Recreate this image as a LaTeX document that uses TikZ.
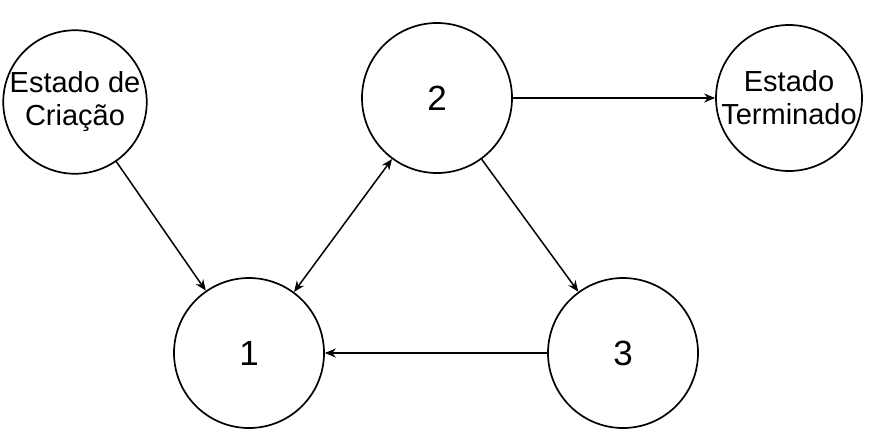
\documentclass[tikz,border=0pt]{standalone}
\usepackage{fontspec}
\setmainfont{Liberation Sans}
\usetikzlibrary{arrows.meta}
\begin{document}
\begin{tikzpicture}[x=1pt,y=-1pt,
  state/.style={circle,draw,line width=1.7pt,inner sep=0pt,align=center},
  conn/.style={line width=1.5pt,-{Stealth[length=11pt,width=9pt]}},
  txt/.style={font=\fontsize{29}{33}\selectfont},
  num/.style={font=\fontsize{35}{40}\selectfont}]
\useasboundingbox (0,0) rectangle (877,437);
\node[state,txt,minimum size=136pt] (c) at (75,102) {Estado de\\Criação};
\node[state,num,minimum size=150pt] (n2) at (437,98) {2};
\node[state,txt,minimum size=146pt] (t) at (789,98) {Estado\\Terminado};
\node[state,num,minimum size=150pt] (n1) at (249,353) {1};
\node[state,num,minimum size=150pt] (n3) at (623,353) {3};
\draw[conn] (c) -- (n1);
\draw[conn,{Stealth[length=11pt,width=9pt]}-{Stealth[length=11pt,width=9pt]}] (n1) -- (n2);
\draw[conn] (n2) -- (t);
\draw[conn] (n2) -- (n3);
\draw[conn] (n3) -- (n1);
\end{tikzpicture}
\end{document}
